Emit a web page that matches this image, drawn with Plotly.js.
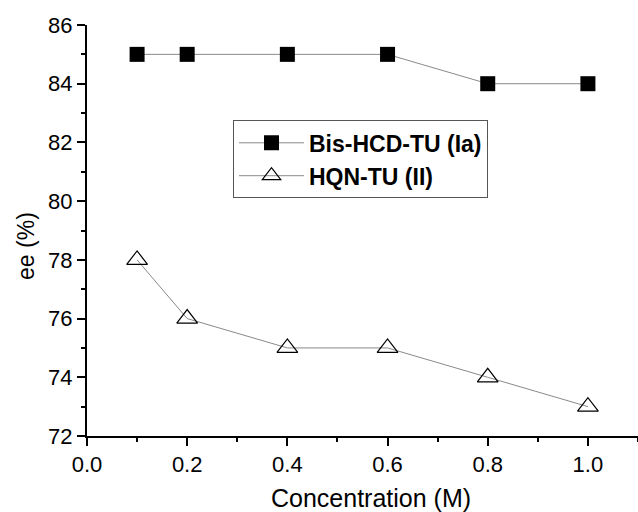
<!DOCTYPE html>
<html><head><meta charset="utf-8">
<script src="https://cdn.plot.ly/plotly-3.0.1.min.js"></script>
<style>html,body{margin:0;padding:0;background:#fff}#c{width:638px;height:512px}</style>
</head><body><div id="c"></div>
<script>
var conc = [0.1, 0.2, 0.4, 0.6, 0.8, 1.0];
var bisHCD = [85, 85, 85, 85, 84, 84];
var hqn = [78, 76, 75, 75, 74, 73];
var seriesNames = ['Bis-HCD-TU (Ia)', 'HQN-TU (II)'];
var xTitle = 'Concentration (M)';
var yTitle = 'ee (%)';

var traces = [
  {x: conc, y: bisHCD, name: seriesNames[0], type: 'scatter', mode: 'lines+markers',
   line: {color: '#8a8a8a', width: 1},
   marker: {symbol: 'square', size: 15, color: '#000', line: {color: '#000', width: 0}}},
  {x: conc, y: hqn, name: seriesNames[1], type: 'scatter', mode: 'lines+markers',
   line: {color: '#8a8a8a', width: 1},
   marker: {symbol: 'triangle-up-open', size: 18, color: '#000', line: {color: '#000', width: 1.2}}}
];

var layout = {
  width: 638, height: 512,
  margin: {l: 87, r: 0, t: 25, b: 76},
  paper_bgcolor: '#fff', plot_bgcolor: '#fff',
  font: {family: 'Liberation Sans, Arial, sans-serif', color: '#000'},
  showlegend: true,
  legend: {x: 0.265, y: 0.768, xanchor: 'left', yanchor: 'top',
    bordercolor: '#555', borderwidth: 1, bgcolor: '#fff',
    font: {size: 23, color: '#000', family: 'Liberation Sans, Arial, sans-serif', weight: 'bold'},
    itemwidth: 65, tracegroupgap: 0},
  xaxis: {range: [0, 1.1], dtick: 0.2, tick0: 0, tickformat: '.1f',
    showgrid: false, zeroline: false, showline: true, linecolor: '#000', linewidth: 2,
    ticks: 'outside', ticklen: 8, tickwidth: 2, tickcolor: '#000',
    tickfont: {size: 22, color: '#000'},
    minor: {dtick: 0.1, ticks: 'outside', ticklen: 4, tickwidth: 2, tickcolor: '#000', showgrid: false}},
  yaxis: {range: [72, 86], dtick: 2, tick0: 72,
    showgrid: false, zeroline: false, showline: true, linecolor: '#000', linewidth: 2,
    ticks: 'outside', ticklen: 8, tickwidth: 2, tickcolor: '#000',
    tickfont: {size: 22, color: '#000'},
    minor: {dtick: 1, ticks: 'outside', ticklen: 4, tickwidth: 2, tickcolor: '#000', showgrid: false}},
  annotations: [
    {text: xTitle, xref: 'paper', yref: 'paper', x: 0.515, y: -0.15, xanchor: 'center', yanchor: 'middle',
     showarrow: false, font: {size: 25, color: '#000'}},
    {text: yTitle, xref: 'paper', yref: 'paper', x: -0.111, y: 0.462, xanchor: 'center', yanchor: 'middle',
     textangle: -90, showarrow: false, font: {size: 23, color: '#000'}}
  ]
};
Plotly.newPlot('c', traces, layout, {staticPlot: true});
</script></body></html>
